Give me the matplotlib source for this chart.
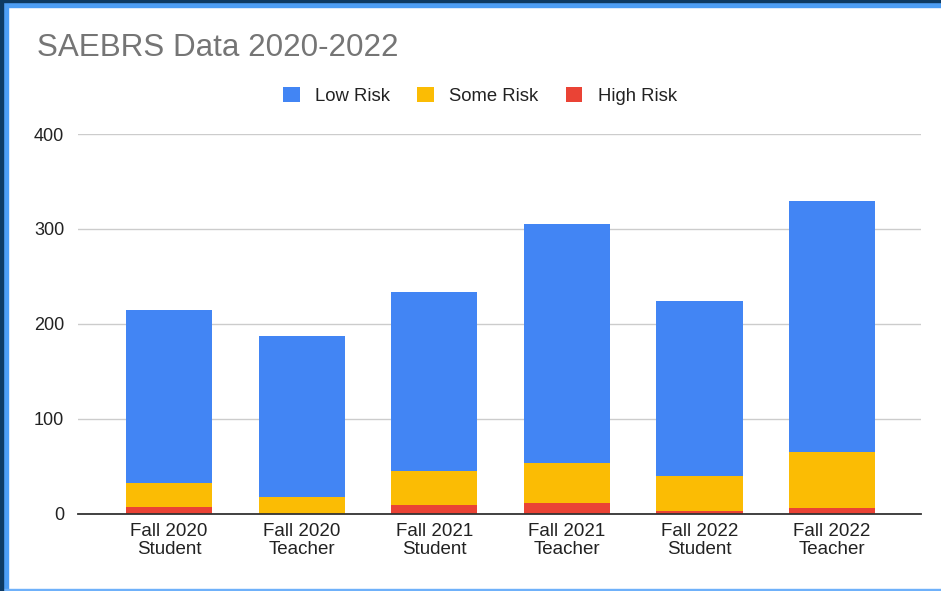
import matplotlib
matplotlib.use("Agg")
import matplotlib.pyplot as plt
from matplotlib.patches import Rectangle
import numpy as np

categories = ["Fall 2020\nStudent", "Fall 2020\nTeacher", "Fall 2021\nStudent",
              "Fall 2021\nTeacher", "Fall 2022\nStudent", "Fall 2022\nTeacher"]
high_risk = [7, 0, 9, 11, 3, 6]
some_risk = [25, 17, 36, 42, 37, 59]
low_risk = [182, 170, 188, 252, 184, 264]
yticks = [0, 100, 200, 300, 400]

plt.rcParams['font.family'] = ['Liberation Sans', 'DejaVu Sans']

fig = plt.figure(figsize=(9.41, 5.91), dpi=100)
ax = fig.add_axes([78/941, 1-513.5/591, (921-78)/941, (513.5-134)/591])

x = np.arange(len(categories))
w = 0.65
high = np.array(high_risk)
some = np.array(some_risk)
low = np.array(low_risk)
ax.bar(x, low, w, bottom=high+some, color="#4285F4", label="Low Risk", zorder=3)
ax.bar(x, some, w, bottom=high, color="#FBBC04", label="Some Risk", zorder=3)
ax.bar(x, high, w, color="#EA4335", label="High Risk", zorder=3)

ax.set_xlim(-0.686, 5.67)
ax.set_ylim(0, 400)
ax.set_yticks(yticks)
ax.set_yticklabels([str(t) for t in yticks], fontsize=13, color="#222222")
ax.set_xticks(x)
ax.set_xticklabels(categories, fontsize=13.5, color="#222222", linespacing=1.05)
ax.tick_params(axis='both', length=0)
ax.tick_params(axis='y', pad=10)
ax.tick_params(axis='x', pad=7)
ax.grid(axis='y', color="#cccccc", linewidth=1, zorder=0)
for s in ['top', 'right', 'left']:
    ax.spines[s].set_visible(False)
ax.spines['bottom'].set_color("#333333")
ax.spines['bottom'].set_linewidth(1.3)
ax.spines['bottom'].set_zorder(4)

fig.text(37/941, 1-48/591, "SAEBRS Data 2020-2022", fontsize=22.6, color="#757575",
         ha='left', va='center')

leg = fig.legend(loc='center', bbox_to_anchor=(480/941, 1-96/591), ncol=3, frameon=False,
                 fontsize=13.3, handlelength=0.9, handleheight=0.9, columnspacing=1.45,
                 handletextpad=0.85)
for t in leg.get_texts():
    t.set_color("#222222")

# screenshot frame
fig.patches.append(Rectangle((0, 0), 8/941, 1, transform=fig.transFigure, color="#4d9ef5", zorder=10))
fig.patches.append(Rectangle((0, 0), 3/941, 1, transform=fig.transFigure, color="#0d3a63", zorder=11))
fig.patches.append(Rectangle((0, 1-7/591), 1, 7/591, transform=fig.transFigure, color="#4d9ef5", zorder=10))
fig.patches.append(Rectangle((0, 1-2/591), 1, 2/591, transform=fig.transFigure, color="#0d3a63", zorder=11))
fig.patches.append(Rectangle((0, 0), 1, 2.5/591, transform=fig.transFigure, color="#6fb1fa", zorder=10))

fig.savefig("out.png", dpi=100)
